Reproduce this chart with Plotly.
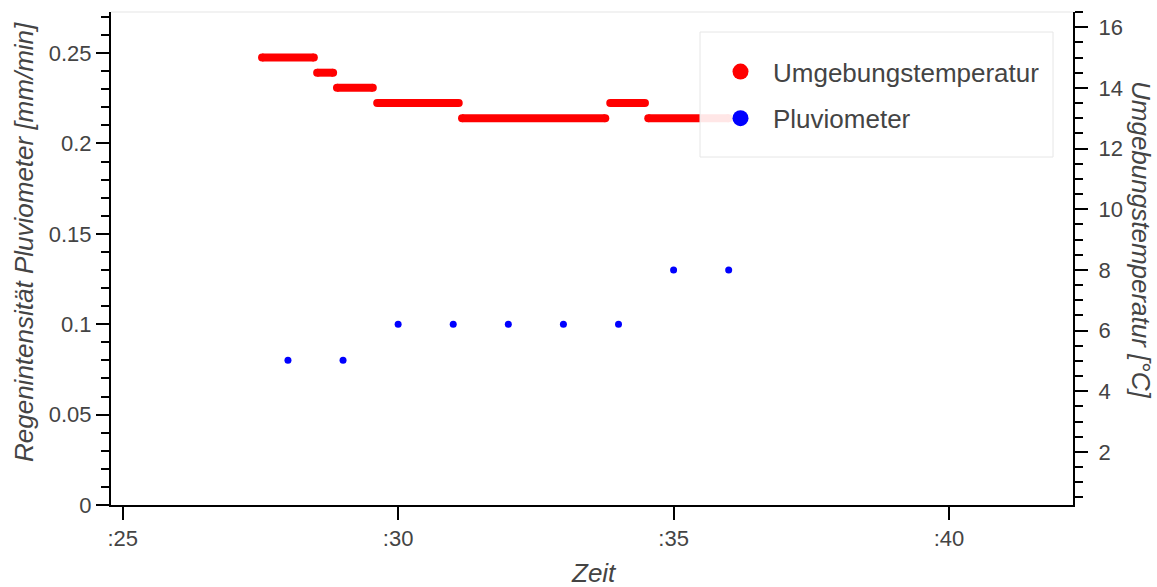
import plotly.graph_objects as go

# ---------------- data ----------------
# Umgebungstemperatur: constant-level runs (minute start, minute end, °C)
temp_start = [27.53, 28.53, 28.89, 29.62, 31.16, 33.85, 34.54]
temp_end = [28.47, 28.82, 29.54, 31.10, 33.76, 34.48, 36.00]
temp_value = [15.0, 14.5, 14.0, 13.5, 13.0, 13.5, 13.0]

# Pluviometer: rain intensity per minute (mm/min)
rain_time = [28, 29, 30, 31, 32, 33, 34, 35, 36]
rain_value = [0.08, 0.08, 0.10, 0.10, 0.10, 0.10, 0.10, 0.13, 0.13]

x_tickvals = [25, 30, 35, 40]
x_ticktext = [":25", ":30", ":35", ":40"]
y_tickvals = [0, 0.05, 0.10, 0.15, 0.20, 0.25]
y_ticktext = ["0", "0.05", "0.1", "0.15", "0.2", "0.25"]
y2_tickvals = [2, 4, 6, 8, 10, 12, 14, 16]

RED = "#ff0000"
BLUE = "#0000ff"
TXT = "#444444"
FONT = "Liberation Sans, Arial, sans-serif"

X_RANGE = [24.788, 42.25]
Y_RANGE = [0, 0.2727]
Y2_RANGE = [0.25, 16.5]

# build segment arrays (None separated)
seg_x, seg_y = [], []
for s, e, v in zip(temp_start, temp_end, temp_value):
    seg_x += [s, e, None]
    seg_y += [v, v, None]

fig = go.Figure()

fig.add_trace(go.Scatter(
    x=seg_x, y=seg_y, yaxis="y2", mode="lines+markers",
    line=dict(color=RED, width=8),
    marker=dict(color=RED, size=8),
    showlegend=False, hoverinfo="skip", connectgaps=False,
))
fig.add_trace(go.Scatter(
    x=rain_time, y=rain_value, mode="markers",
    marker=dict(color=BLUE, size=7),
    showlegend=False,
))
# legend entries
fig.add_trace(go.Scatter(
    x=[None], y=[None], mode="markers", name="Umgebungstemperatur",
    marker=dict(color=RED, size=18), legend="legend",
))
fig.add_trace(go.Scatter(
    x=[None], y=[None], mode="markers", name="Pluviometer",
    marker=dict(color=BLUE, size=18), legend="legend2",
))

L, R, T, B = 111, 84, 12, 82
W, H = 1157, 587
pw = W - L - R
ph = H - T - B


def px_x(p):
    return (p - L) / pw


def px_y(p):
    return (H - B - p) / ph


axis_common = dict(
    showgrid=False, zeroline=False, showline=True, linecolor="black",
    linewidth=2, ticks="outside", tickcolor="black", tickwidth=2,
    tickfont=dict(family=FONT, size=22, color=TXT),
)

inner_common = dict(
    showgrid=False, zeroline=False, showline=False, ticks="inside",
    ticklen=4, tickcolor="black", tickwidth=2, showticklabels=False,
)

legend_common = dict(
    bgcolor="rgba(0,0,0,0)", borderwidth=0, xanchor="left", yanchor="middle",
    font=dict(family=FONT, size=26, color=TXT), itemwidth=55,
    itemsizing="trace",
)

fig.update_layout(
    width=W, height=H,
    margin=dict(l=L, r=R, t=T, b=B, pad=0),
    paper_bgcolor="white", plot_bgcolor="white",
    xaxis=dict(
        **axis_common, range=X_RANGE, tickvals=x_tickvals,
        ticktext=x_ticktext, ticklen=13, ticklabelstandoff=0,
    ),
    yaxis=dict(
        **axis_common, range=Y_RANGE, tickvals=y_tickvals,
        ticktext=y_ticktext, ticklen=13,
        minor=dict(ticks="outside", ticklen=8, dtick=0.01, tick0=0,
                   tickcolor="black", tickwidth=2),
    ),
    yaxis2=dict(
        **axis_common, range=Y2_RANGE, overlaying="y", side="right",
        anchor="x", tickvals=y2_tickvals, ticklen=13, ticklabelstandoff=6,
        minor=dict(ticks="outside", ticklen=8, dtick=0.5, tick0=0,
                   tickcolor="black", tickwidth=2),
    ),
    xaxis2=dict(**inner_common, range=X_RANGE, overlaying="x", anchor="y",
                side="bottom", tickvals=x_tickvals),
    yaxis3=dict(**inner_common, range=Y_RANGE, overlaying="y", anchor="x",
                side="left", tickvals=y_tickvals),
    yaxis4=dict(**inner_common, range=Y2_RANGE, overlaying="y", anchor="x",
                side="right", tickvals=y2_tickvals),
    legend=dict(**legend_common, x=px_x(708), y=px_y(71.7)),
    legend2=dict(**legend_common, x=px_x(708), y=px_y(118.3)),
    shapes=[
        dict(type="line", xref="paper", yref="paper", x0=0, x1=1, y0=1, y1=1,
             line=dict(color="#e5e5e5", width=1), layer="below"),
        dict(type="rect", xref="paper", yref="paper",
             x0=px_x(700), x1=px_x(1053), y0=px_y(157), y1=px_y(32),
             fillcolor="rgba(255,255,255,0.9)",
             line=dict(color="#e6e6e6", width=1), layer="above"),
    ],
    annotations=[
        dict(text="<i>Zeit</i>", xref="paper", yref="paper",
             x=px_x(594), y=px_y(573), xanchor="center", yanchor="middle",
             showarrow=False, font=dict(family=FONT, size=26, color=TXT)),
        dict(text="<i>Regenintensität Pluviometer [mm/min]</i>",
             xref="paper", yref="paper", x=px_x(24), y=px_y(242),
             xanchor="center", yanchor="middle", textangle=-90,
             showarrow=False, font=dict(family=FONT, size=26, color=TXT)),
        dict(text="<i>Umgebungstemperatur [°C]</i>",
             xref="paper", yref="paper", x=px_x(1141), y=px_y(240),
             xanchor="center", yanchor="middle", textangle=90,
             showarrow=False, font=dict(family=FONT, size=26, color=TXT)),
    ],
)

fig.write_html(
    "out.html",
    config={"displayModeBar": False},
    post_script="document.body.style.margin='0px';"
                "document.body.style.padding='0px';",
)
